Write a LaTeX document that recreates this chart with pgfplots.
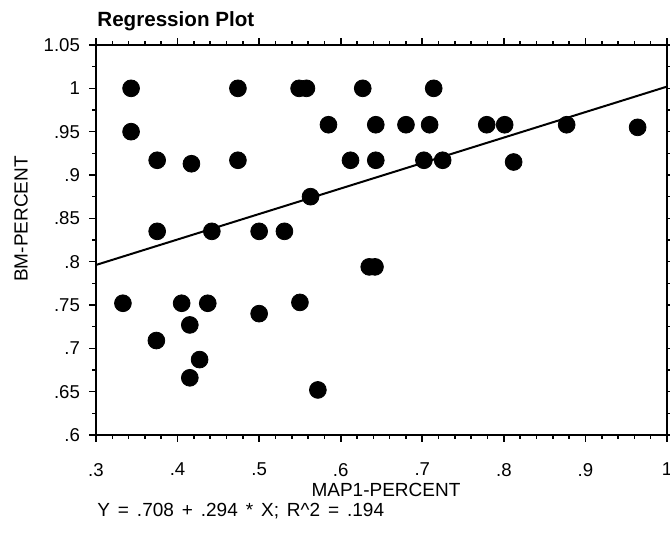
\documentclass[border=0pt]{standalone}
\usepackage{fontspec}
\setmainfont{Liberation Sans}
\newfontfamily\eqfont{Liberation Sans}[WordSpace=1.5]
\usepackage{pgfplots}
\pgfplotsset{compat=1.18}
\begin{document}
\begin{tikzpicture}[x=1pt,y=1pt]
\useasboundingbox (0,0) rectangle (335,267.5);
\begin{axis}[
  at={(48pt,50pt)}, anchor=south west,
  scale only axis, width=285.5pt, height=195pt,
  xmin=0.3, xmax=1, ymin=0.6, ymax=1.05,
  xtick={0.3,0.4,...,1.0},
  xticklabels={.3,.4,.5,.6,.7,.8,.9,1},
  ytick={0.6,0.65,0.7,0.75,0.8,0.85,0.9,0.95,1,1.05},
  yticklabels={.6,.65,.7,.75,.8,.85,.9,.95,1,1.05},
  minor x tick num=4, minor y tick num=1,
  tick align=outside, tick pos=both,
  major tick length=3.5pt, minor tick length=2pt,
  every tick/.style={black, line width=0.8pt},
  axis line style={line width=1.2pt},
  ticklabel style={font=\fontsize{9.3}{11}\selectfont},
  xticklabel style={yshift=-7pt},
  yticklabel style={xshift=-1pt},
  clip=false,
]
\addplot[only marks, mark=*, mark size=4.2pt, black] coordinates {
(.343,1.0) (.343,.95) (.375,.917) (.417,.913) (.474,1.0) (.474,.917)
(.549,1.0) (.558,1.0) (.627,1.0) (.585,.958) (.643,.958) (.612,.917)
(.643,.917) (.563,.875) (.375,.835) (.442,.835) (.5,.835) (.531,.835)
(.714,1.0) (.68,.958) (.709,.958) (.779,.958) (.801,.958) (.877,.958)
(.964,.955) (.702,.917) (.725,.917) (.812,.915) (.635,.794) (.642,.794)
(.333,.752) (.405,.752) (.437,.752) (.5,.74) (.55,.753) (.415,.727)
(.374,.709) (.427,.687) (.415,.666) (.572,.652)
};
\addplot[black, line width=1pt] coordinates {(0.3,0.7962) (1,1.002)};
\end{axis}
\node[anchor=base west, font=\fontsize{10.3}{12}\selectfont\bfseries, inner sep=0] at (48.5,254) {Regression Plot};
\node[anchor=base, font=\fontsize{9.5}{11}\selectfont, inner sep=0] at (193,19) {MAP1-PERCENT};
\node[anchor=base west, font=\fontsize{9.5}{11}\selectfont\eqfont, inner sep=0] at (48.5,9) {Y = .708 + .294 * X; R\^{}2 = .194};
\node[rotate=90, font=\fontsize{9.5}{11}\selectfont, inner sep=0] at (10.5,158) {BM-PERCENT};
\end{tikzpicture}
\end{document}
